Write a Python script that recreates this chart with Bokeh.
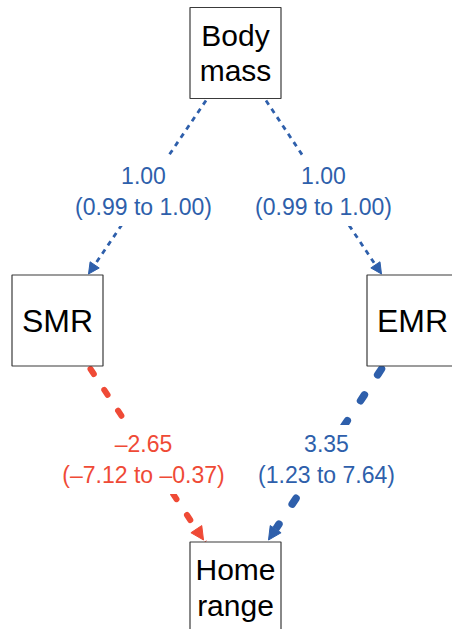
from bokeh.plotting import figure
from bokeh.models import Range1d, Arrow, NormalHead, ColumnDataSource
from bokeh.core.properties import value
from bokeh.embed import file_html
from bokeh.resources import INLINE

# ---------------- data ----------------
nodes = ["Body mass", "SMR", "EMR", "Home range"]
node_text = ["Body\nmass", "SMR", "EMR", "Home\nrange"]
path_from = ["Body mass", "Body mass", "SMR", "EMR"]
path_to = ["SMR", "EMR", "Home range", "Home range"]
estimates = [1.00, 1.00, -2.65, 3.35]
ci_low = [0.99, 0.99, -7.12, 1.23]
ci_high = [1.00, 1.00, -0.37, 7.64]

# ---------------- layout (page pixel space) ----------------
W, H = 452, 629
node_pos = {"Body mass": (235, 52.5), "SMR": (57, 320), "EMR": (412, 320), "Home range": (235, 587)}
HALF = 45.5
# horizontal offsets of arrow anchors from box centres (source, target)
anchor_dx = [(-29.5, 31), (30.5, -31), (33, -32), (-31, 33)]
anchor_gap = [(2, 1), (2, 1), (3, 2), (3, 2)]
label_pos = [(143, 191), (323, 191), (143, 459), (326, 459)]
edge_width = [2.8, 2.8, 6.0, 7.5]
edge_dash = ["5 5", "5 5", "6 19", "7 24"]
edge_cap = ["butt", "butt", "round", "round"]
head_size = [11, 11, 13, 13]
node_font = ["30px", "32px", "32px", "30px"]

BLUE = "#2E5FAB"
RED = "#EF4A36"
FONT = value("Liberation Sans")


def fmt(v):
    s = f"{v:.2f}"
    return s.replace("-", "\u2013")


p = figure(width=W, height=H, x_range=Range1d(0, W), y_range=Range1d(H, 0),
           x_axis_type=None, y_axis_type=None, output_backend="svg",
           toolbar_location=None, min_border=0)
p.grid.visible = False
p.outline_line_color = None
p.background_fill_color = "white"
p.border_fill_color = "white"

# arrows
for i in range(len(estimates)):
    sx, sy = node_pos[path_from[i]]
    tx, ty = node_pos[path_to[i]]
    color = BLUE if estimates[i] > 0 else RED
    a = Arrow(x_start=sx + anchor_dx[i][0], y_start=sy + HALF + anchor_gap[i][0],
              x_end=tx + anchor_dx[i][1], y_end=ty - HALF - anchor_gap[i][1],
              line_color=color, line_width=edge_width[i], line_dash=edge_dash[i],
              line_cap=edge_cap[i],
              end=NormalHead(size=head_size[i], fill_color=color, line_color=color, line_width=1),
              level="underlay")
    p.add_layout(a)

# boxes
bx = [node_pos[n][0] for n in nodes]
by = [node_pos[n][1] for n in nodes]
box_src = ColumnDataSource(dict(
    left=[x - HALF for x in bx], right=[x + HALF for x in bx],
    top=[y - HALF for y in by], bottom=[y + HALF for y in by]))
p.quad(left="left", right="right", top="top", bottom="bottom", source=box_src,
       fill_color="white", line_color="#3a3a3a", line_width=1.2)

txt_src = ColumnDataSource(dict(x=bx, y=by, text=node_text, size=node_font))
p.text(x="x", y="y", text="text", source=txt_src, text_font=FONT, text_font_size="size",
       text_align="center", text_baseline="middle", text_line_height=1.07,
       text_color="black")

# coefficient labels
lab_text = [f"{fmt(e)}\n({fmt(l)} to {fmt(h)})" for e, l, h in zip(estimates, ci_low, ci_high)]
lab_col = [BLUE if e > 0 else RED for e in estimates]
p.text(x=[q[0] for q in label_pos], y=[q[1] for q in label_pos], text=lab_text,
       text_font=FONT, text_font_size="23px", text_align="center", text_baseline="middle",
       text_line_height=1.2, text_color=lab_col, background_fill_color="white",
       padding=6)

open("out.html", "w").write(file_html(p, INLINE))
